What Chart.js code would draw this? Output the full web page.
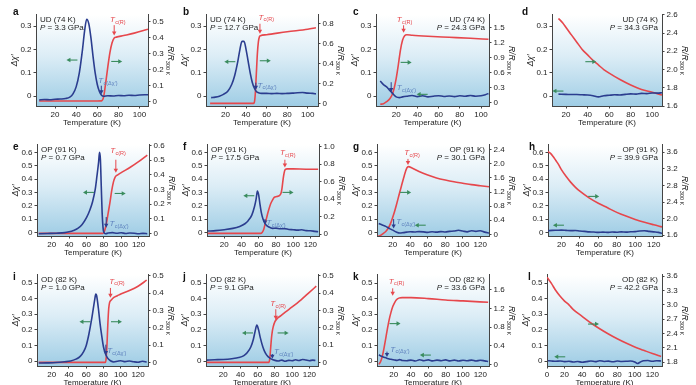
<!DOCTYPE html>
<html><head><meta charset="utf-8">
<script src="https://cdn.jsdelivr.net/npm/chart.js@4.4.1/dist/chart.umd.min.js"></script>
<style>
body{margin:0;background:#fff;width:696px;height:385px;position:relative;overflow:hidden;font-family:"Liberation Sans",Arial,sans-serif}
canvas{position:absolute}
.let{position:absolute;font-weight:bold;font-size:10px;line-height:10px;color:#111;font-family:"Liberation Sans",Arial,sans-serif}
</style></head><body>
<script>
// ---------------- DATA ----------------
const xTicksUD = [20,40,60,80,100];
const xTicksOP = [20,40,60,80,100,120];
const xTicksOD0 = [0,20,40,60,80,100,120];
const chiTicksUD = [0,0.1,0.2,0.3];
const chiTicksOP = [0,0.1,0.2,0.3,0.4,0.5,0.6];
const chiTicksOD = [0,0.1,0.2,0.3,0.4,0.5];

// a  UD 3.3 GPa
const aBT = [5,10,15,20,25,30,34,37,40,43,46,48,50,52,54,56,58,60,62,64,66,70,75,80,85,90,95,100,105,108];
const aBChi = [-0.016,-0.014,-0.015,-0.013,-0.012,-0.01,-0.004,0.01,0.04,0.10,0.20,0.28,0.33,0.31,0.25,0.17,0.10,0.05,0.02,0.004,0.0,0.002,0.001,0.003,0.002,0.004,0.003,0.005,0.006,0.006];
const aRT = [5,30,60,64,66,68,70,72,74,76,78,85,95,108];
const aR = [0.004,0.004,0.004,0.005,0.03,0.12,0.22,0.31,0.37,0.40,0.405,0.415,0.43,0.455];
const aRTicks = [0,0.1,0.2,0.3,0.4,0.5];
// b  UD 12.7 GPa
const bBT = [6,10,14,18,22,26,29,32,34,36,38,40,42,44,46,48,50,52,55,60,65,70,75,80,85,90,95,100,105,108];
const bBChi = [-0.006,-0.004,0.0,0.008,0.02,0.05,0.09,0.15,0.2,0.235,0.235,0.2,0.15,0.1,0.06,0.035,0.02,0.015,0.012,0.012,0.011,0.012,0.011,0.012,0.013,0.015,0.016,0.013,0.012,0.01];
const bRT = [5,30,47,48,49,50,51,52,53,54,60,80,100,108];
const bR = [0,0,0,0.01,0.1,0.3,0.5,0.62,0.67,0.68,0.69,0.72,0.745,0.76];
const bRTicks = [0,0.2,0.4,0.6,0.8];
// c  UD 24.3 GPa
const cBT = [5,8,11,14,17,20,23,26,30,35,40,45,50,55,60,65,70,75,80,85,90,95,100,104,107];
const cBChi = [0.065,0.05,0.04,0.025,0.01,-0.003,-0.006,-0.003,0.0,0.003,-0.002,0.002,-0.003,0.0,0.002,-0.001,0.001,-0.002,0.002,0.0,0.003,0.0,0.002,0.006,0.012];
const cRT = [5,8,11,14,16,18,20,22,24,26,28,30,35,50,70,90,107];
const cR = [-0.03,-0.02,0.02,0.08,0.15,0.28,0.48,0.75,1.05,1.25,1.34,1.36,1.35,1.33,1.31,1.29,1.27];
const cRTicks = [0,0.3,0.6,0.9,1.2,1.5];
// d  UD 34.3 GPa
const dBT = [13,20,25,30,35,40,45,50,55,60,65,70,75,80,85,90,95,100,105,109];
const dBChi = [0.009,0.008,0.007,0.007,0.006,0.005,0.002,-0.003,0.002,0.004,0.006,0.005,0.008,0.01,0.009,0.012,0.011,0.014,0.013,0.015];
const dRT = [13,17,20,25,30,35,40,45,50,55,60,70,80,90,100,109];
const dR = [2.56,2.51,2.46,2.38,2.30,2.22,2.16,2.10,2.05,2.0,1.96,1.89,1.83,1.78,1.75,1.72];
const dRTicks = [1.6,1.8,2.0,2.2,2.4,2.6];
// e  OP 0.7 GPa
const eBT = [5,15,25,35,40,45,50,55,60,64,67,70,72,74,75,76,77,78,79,80,82,85,90,95,100,105,110,115,120,125,130];
const eBChi = [-0.01,-0.008,-0.006,-0.002,0.005,0.015,0.03,0.06,0.11,0.17,0.23,0.32,0.42,0.53,0.6,0.55,0.35,0.15,0.04,0.0,-0.01,-0.005,-0.002,-0.006,-0.003,-0.008,-0.004,-0.006,-0.01,-0.007,-0.01];
const eRT = [5,40,79,81,83,85,87,89,91,93,96,100,110,120,130];
const eR = [0,0,0,0.02,0.07,0.14,0.21,0.29,0.35,0.385,0.40,0.415,0.45,0.49,0.535];
const eRTicks = [0,0.1,0.2,0.3,0.4,0.5,0.6];
// f  OP 17.5 GPa
const fBT = [1,10,20,30,38,44,48,52,55,57,58.5,60,61.5,63,65,68,72,76,80,85,90,95,100,105,110,115,120,125,129];
const fBChi = [0.01,0.013,0.02,0.03,0.045,0.065,0.09,0.13,0.19,0.25,0.31,0.28,0.21,0.15,0.1,0.06,0.04,0.03,0.032,0.027,0.028,0.022,0.02,0.017,0.02,0.013,0.012,0.008,0.005];
const fRT = [1,40,62,64,66,68,70,72,74,76,78,81,84,86,87,88,89,90,91,93,100,115,129];
const fR = [0.01,0.01,0.01,0.02,0.06,0.14,0.22,0.29,0.35,0.39,0.42,0.43,0.44,0.47,0.52,0.6,0.67,0.72,0.74,0.745,0.745,0.742,0.742];
const fRTicks = [0,0.2,0.4,0.6,0.8,1.0];
// g  OP 30.1 GPa
const gBT = [4,8,12,16,20,24,28,32,36,40,45,50,55,60,65,70,75,80,85,90,95,100,105,110,115,120,125,130];
const gBChi = [0.066,0.055,0.045,0.03,0.017,0.003,-0.005,-0.002,0.002,0.005,0.003,0.006,0.004,0.0,0.005,0.002,0.006,0.003,0.008,0.01,0.016,0.01,0.004,0.012,0.008,0.012,0.002,-0.005];
const gRT = [3,6,9,12,15,18,21,24,27,30,33,36,38,42,50,60,70,80,90,100,110,120,130];
const gR = [-0.06,-0.03,0.02,0.08,0.18,0.34,0.56,0.82,1.1,1.38,1.65,1.88,1.92,1.88,1.78,1.68,1.6,1.54,1.49,1.45,1.41,1.38,1.35];
const gRTicks = [0,0.4,0.8,1.2,1.6,2.0,2.4];
// h  OP 39.9 GPa
const hBT = [5,10,15,20,25,30,35,40,45,50,55,60,65,70,75,80,85,90,95,100,105,110,115,120,125,129];
const hBChi = [0.012,0.015,0.016,0.017,0.015,0.013,0.014,0.01,0.008,0.004,0.003,0.0,0.002,0.0,0.003,0.001,0.004,0.002,0.005,0.006,0.01,0.012,0.008,0.004,0.0,-0.006];
const hRT = [5,8,11,14,17,20,25,30,35,40,50,60,70,80,90,100,110,120,129];
const hR = [3.62,3.58,3.5,3.4,3.3,3.18,3.02,2.88,2.76,2.66,2.5,2.37,2.26,2.15,2.06,1.98,1.91,1.85,1.8];
const hRTicks = [1.6,2.0,2.4,2.8,3.2,3.6];
// i  OD 1.0 GPa
const iBT = [5,15,25,35,42,48,53,57,60,63,66,68,70,71,72,74,76,78,80,82,85,88,92,96,100,105,110,115,120,125,130];
const iBChi = [-0.013,-0.012,-0.01,-0.005,0.0,0.012,0.03,0.06,0.1,0.17,0.26,0.33,0.4,0.43,0.42,0.34,0.24,0.16,0.09,0.05,0.017,0.002,-0.006,-0.002,0.002,-0.004,0.0,-0.005,-0.008,-0.002,-0.006];
const iRT = [5,40,82,83,84,85,86,87,89,92,96,100,110,120,130];
const iR = [0,0,0,0.02,0.1,0.22,0.31,0.345,0.36,0.375,0.385,0.395,0.415,0.44,0.475];
const iRTicks = [0,0.1,0.2,0.3,0.4,0.5];
// j  OD 9.1 GPa
const jBT = [1,10,20,30,38,44,48,52,55,57,59,61,63,66,69,72,76,80,84,88,92,96,100,104,108,112,116,120,124,127];
const jBChi = [0.006,0.008,0.01,0.015,0.022,0.035,0.055,0.09,0.14,0.19,0.23,0.2,0.15,0.09,0.05,0.028,0.012,0.004,0.0,0.006,-0.002,0.004,0.002,0.008,0.003,0.01,0.006,0.002,0.006,0.003];
const jRT = [1,40,73,74,75,76,77,78,80,83,87,92,100,110,120,128];
const jR = [0,0,0,0.02,0.08,0.14,0.18,0.205,0.235,0.255,0.27,0.29,0.32,0.36,0.405,0.44];
const jRTicks = [0,0.1,0.2,0.3,0.4,0.5];
// k  OD 33.6 GPa
const kBT = [3,6,9,12,15,18,21,24,27,30,35,40,45,50,55,60,65,70,75,80,85,90,95,100,105,110,115,120,125,129];
const kBChi = [0.04,0.03,0.024,0.018,0.013,0.01,0.007,0.004,0.009,0.003,0.002,0.006,0.0,0.008,0.002,0.007,0.001,0.006,0.002,0.007,0.001,0.006,0.0,0.005,0.002,0.006,0.0,0.005,0.001,-0.003];
const kRT = [3,5,7,9,11,13,15,17,19,21,23,26,30,40,60,80,100,129];
const kR = [0.0,0.06,0.18,0.36,0.57,0.78,0.97,1.12,1.24,1.32,1.38,1.42,1.43,1.43,1.41,1.38,1.36,1.33];
const kRTicks = [0,0.4,0.8,1.2,1.6];
// l  OD 42.2 GPa
const lBT = [1,5,10,15,20,25,30,35,40,45,50,55,60,65,70,75,80,85,90,95,100,103,106,110,115,120,125,130];
const lBChi = [0.002,0.0,-0.002,0.0,-0.004,-0.002,-0.006,-0.003,-0.008,-0.004,0.0,-0.004,0.002,-0.003,-0.001,-0.005,0.0,-0.003,-0.002,0.0,-0.006,-0.016,-0.008,0.002,0.003,-0.002,0.002,0.0];
const lRT = [0,5,10,15,20,25,30,40,50,60,70,80,90,100,110,120,130];
const lR = [3.58,3.45,3.3,3.18,3.08,3.0,2.9,2.76,2.62,2.5,2.39,2.29,2.2,2.12,2.05,1.98,1.92];
const lRTicks = [1.8,2.1,2.4,2.7,3.0,3.3,3.6];

// ---------------- LAYOUT ----------------
const ROWS = [[13,106],[143,236],[273,366]];
const L = 36, R = 30, T = 5, B = 22;
const BLUE = '#2b3d8f', RED = '#e6474c', GREEN = '#3a8c5e', TLBLUE = '#5d80bd';

const panels = [
 {k:'a',row:0,pl:36,pr:148,x:[2,108],xt:xTicksUD,yl:[-0.042,0.349],ylt:chiTicksUD,yr:[-0.027,0.545],yrt:aRTicks,bt:aBT,by:aBChi,rt:aRT,ry:aR,
  s:'UD (74 K)',p:'3.3',side:'L',lx:13,
  tcR:{lx:72,ly:0.514,x:76,y1:0.48,y2:0.415},tcM:{lx:61,ly:0.065,x:63.8,y1:0.045,y2:0.008},gl:[36,0.155],gr:[78.4,0.149]},
 {k:'b',row:0,pl:206,pr:318,x:[1,110],xt:xTicksUD,yl:[-0.042,0.349],ylt:chiTicksUD,yr:[-0.026,0.89],yrt:bRTicks,bt:bBT,by:bBChi,rt:bRT,ry:bR,
  s:'UD (74 K)',p:'12.7',side:'L',lx:183,
  tcR:{lx:52,ly:0.865,x:53.5,y1:0.80,y2:0.70},tcM:{lx:51,ly:0.046,x:49.5,y1:0.058,y2:0.028},gl:[24.2,0.148],gr:[58.7,0.152]},
 {k:'c',row:0,pl:376,pr:489,x:[1,107.5],xt:xTicksUD,yl:[-0.042,0.349],ylt:chiTicksUD,yr:[-0.066,1.76],yrt:cRTicks,bt:cBT,by:cBChi,rt:cRT,ry:cR,
  s:'UD (74 K)',p:'24.3',side:'R',lx:353,
  tcR:{lx:20.6,ly:1.66,x:27,y1:1.55,y2:1.40},tcM:{lx:20.6,ly:0.037,x:15.3,y1:0.06,y2:0.018},gl:[44.5,0.008],gr:[29.4,0.145]},
 {k:'d',row:0,pl:552,pr:662,x:[7,109],xt:xTicksUD,yl:[-0.042,0.349],ylt:chiTicksUD,yr:[1.6,2.6],yrt:dRTicks,bt:dBT,by:dBChi,rt:dRT,ry:dR,
  s:'UD (74 K)',p:'34.3',side:'R',lx:522,
  gl:[12.5,0.022],gr:[43,0.148]},
 {k:'e',row:1,pl:37,pr:149,x:[3,132],xt:xTicksOP,yl:[-0.027,0.657],ylt:chiTicksOP,yr:[-0.018,0.605],yrt:eRTicks,bt:eBT,by:eBChi,rt:eRT,ry:eR,
  s:'OP (91 K)',p:'0.7',side:'L',lx:13,
  tcR:{lx:87.3,ly:0.566,x:93.8,y1:0.503,y2:0.414},tcM:{lx:86.5,ly:0.066,x:82.7,y1:0.115,y2:0.034},gl:[62.3,0.3],gr:[98.8,0.292]},
 {k:'f',row:1,pl:207,pr:319,x:[0,130],xt:xTicksOP,yl:[-0.027,0.657],ylt:chiTicksOP,yr:[-0.02,1.02],yrt:fRTicks,bt:fBT,by:fBChi,rt:fRT,ry:fR,
  s:'OP (91 K)',p:'17.5',side:'L',lx:183,
  tcR:{lx:84.6,ly:0.93,x:90.4,y1:0.85,y2:0.76},tcM:{lx:69,ly:0.074,x:67.3,y1:0.1,y2:0.06},gl:[48.5,0.275],gr:[94,0.3]},
 {k:'g',row:1,pl:377,pr:489,x:[2,130],xt:xTicksOP,yl:[-0.027,0.657],ylt:chiTicksOP,yr:[-0.047,2.54],yrt:gRTicks,bt:gBT,by:gBChi,rt:gRT,ry:gR,
  s:'OP (91 K)',p:'30.1',side:'R',lx:353,
  tcR:{lx:33.2,ly:2.31,x:37.4,y1:2.14,y2:1.97},tcM:{lx:24,ly:0.079,x:21,y1:0.1,y2:0.03},gl:[51.4,0.054],gr:[34.7,0.3]},
 {k:'h',row:1,pl:548,pr:662,x:[5.5,129],xt:xTicksOP,yl:[-0.027,0.657],ylt:chiTicksOP,yr:[1.58,3.78],yrt:hRTicks,bt:hBT,by:hBChi,rt:hRT,ry:hR,
  s:'OP (91 K)',p:'39.9',side:'R',lx:529,
  gl:[16.8,0.054],gr:[55,0.27]},
 {k:'i',row:2,pl:37,pr:148,x:[3,131.5],xt:xTicksOP,yl:[-0.032,0.553],ylt:chiTicksOD,yr:[-0.021,0.506],yrt:iRTicks,bt:iBT,by:iBChi,rt:iRT,ry:iR,
  s:'OD (82 K)',p:'1.0',side:'L',lx:13,
  tcR:{lx:86.5,ly:0.468,x:88,y1:0.43,y2:0.373},tcM:{lx:84.2,ly:0.063,x:82.7,y1:0.105,y2:0.038},gl:[58.5,0.252],gr:[95,0.252]},
 {k:'j',row:2,pl:206,pr:318,x:[0,130],xt:xTicksOP,yl:[-0.032,0.553],ylt:chiTicksOD,yr:[-0.021,0.506],yrt:jRTicks,bt:jBT,by:jBChi,rt:jRT,ry:jR,
  s:'OD (82 K)',p:'9.1',side:'L',lx:183,
  tcR:{lx:74.7,ly:0.34,x:81,y1:0.307,y2:0.246},tcM:{lx:79,ly:0.059,x:77,y1:0.045,y2:0.015},gl:[48.2,0.18],gr:[89.5,0.18]},
 {k:'k',row:2,pl:377,pr:489,x:[0.8,130],xt:xTicksOP,yl:[-0.032,0.553],ylt:chiTicksOD,yr:[-0.035,1.92],yrt:kRTicks,bt:kBT,by:kBChi,rt:kRT,ry:kR,
  s:'OD (82 K)',p:'33.6',side:'R',lx:353,
  tcR:{lx:14.3,ly:1.78,x:18.9,y1:1.63,y2:1.47},tcM:{lx:16.2,ly:0.074,x:12.3,y1:0.06,y2:0.025},gl:[56.6,0.038],gr:[21.6,0.24]},
 {k:'l',row:2,pl:547,pr:662,x:[0,131],xt:xTicksOD0,yl:[-0.032,0.553],ylt:chiTicksOD,yr:[1.72,3.63],yrt:lRTicks,bt:lBT,by:lBChi,rt:lRT,ry:lR,
  s:'OD (82 K)',p:'42.2',side:'R',lx:528,
  gl:[14.5,0.027],gr:[53,0.237]}
];
const LETTER_Y = [7,142,272];

function fmt(v){ return Math.abs(v)<1e-9 ? '0' : v.toFixed(1); }
function pts(xs,ys){ return xs.map((x,i)=>({x, y:ys[i]})); }

function arrowH(ctx,cx,cy,dir){
  const len=11; ctx.save(); ctx.strokeStyle=GREEN; ctx.fillStyle=GREEN; ctx.lineWidth=1.1;
  const x0=cx-dir*len/2, x1=cx+dir*len/2;
  ctx.beginPath(); ctx.moveTo(x0,cy); ctx.lineTo(x1-dir*3,cy); ctx.stroke();
  ctx.beginPath(); ctx.moveTo(x1,cy); ctx.lineTo(x1-dir*4,cy-2.3); ctx.lineTo(x1-dir*4,cy+2.3); ctx.closePath(); ctx.fill();
  ctx.restore();
}
function arrowV(ctx,x,y1,y2,color){
  ctx.save(); ctx.strokeStyle=color; ctx.fillStyle=color; ctx.lineWidth=1;
  const d = y2>y1?1:-1;
  ctx.beginPath(); ctx.moveTo(x,y1); ctx.lineTo(x,y2-d*3); ctx.stroke();
  ctx.beginPath(); ctx.moveTo(x,y2); ctx.lineTo(x-2.2,y2-d*4); ctx.lineTo(x+2.2,y2-d*4); ctx.closePath(); ctx.fill();
  ctx.restore();
}
function tcLabel(ctx,x,y,sub,color){
  ctx.save(); ctx.fillStyle=color; ctx.textBaseline='middle'; ctx.textAlign='left';
  ctx.font='italic 8px "Liberation Sans", Arial, sans-serif'; ctx.fillText('T',x,y);
  const w=ctx.measureText('T').width;
  ctx.font='5.5px "Liberation Sans", Arial, sans-serif'; ctx.fillText(sub,x+w+0.3,y+2.5);
  ctx.restore();
}

function makeDeco(p){
  return {
    id:'deco'+p.k,
    beforeDraw(chart){
      const {ctx, chartArea:a} = chart;
      const g = ctx.createLinearGradient(0,a.top,0,a.bottom);
      g.addColorStop(0,'#ffffff'); g.addColorStop(0.45,'#dcedf6'); g.addColorStop(1,'#9fcde5');
      ctx.save(); ctx.fillStyle=g; ctx.fillRect(a.left,a.top,a.right-a.left,a.bottom-a.top); ctx.restore();
    },
    afterDraw(chart){
      const {ctx, chartArea:a, scales} = chart;
      const X=scales.x, YL=scales.yl, YR=scales.yr;
      ctx.save();
      ctx.fillStyle='#222'; ctx.textBaseline='middle';
      // x title
      ctx.font='8px "Liberation Sans", Arial, sans-serif'; ctx.textAlign='center';
      ctx.fillText('Temperature (K)',(a.left+a.right)/2,a.bottom+16.5);
      // left title
      ctx.save(); ctx.translate(a.left-21,(a.top+a.bottom)/2); ctx.rotate(-Math.PI/2);
      ctx.font='italic 8.5px "Liberation Sans", Arial, sans-serif'; ctx.textAlign='center'; ctx.fillText('\u0394\u03c7\u2032',0,0); ctx.restore();
      // right title
      ctx.save(); ctx.translate(a.right+22,(a.top+a.bottom)/2); ctx.rotate(Math.PI/2);
      ctx.font='italic 8.5px "Liberation Sans", Arial, sans-serif'; ctx.textAlign='left';
      const w1=ctx.measureText('R/R').width; ctx.font='5.5px "Liberation Sans", Arial, sans-serif';
      const w2=ctx.measureText('300 K').width; const st=-(w1+w2)/2;
      ctx.font='italic 8.5px "Liberation Sans", Arial, sans-serif'; ctx.fillText('R/R',st,0);
      ctx.font='5.5px "Liberation Sans", Arial, sans-serif'; ctx.fillText('300 K',st+w1+0.3,2.6);
      ctx.restore();
      // sample text
      ctx.font='8px "Liberation Sans", Arial, sans-serif';
      const l2a='P', l2b=' = '+p.p+' GPa';
      ctx.font='italic 8px "Liberation Sans", Arial, sans-serif'; const wp=ctx.measureText(l2a).width;
      ctx.font='8px "Liberation Sans", Arial, sans-serif'; const wb=ctx.measureText(l2b).width;
      const w0=ctx.measureText(p.s).width;
      if(p.side==='L'){
        const x0=a.left+4;
        ctx.textAlign='left'; ctx.fillText(p.s,x0,a.top+5);
        ctx.font='italic 8px "Liberation Sans", Arial, sans-serif'; ctx.fillText(l2a,x0,a.top+13);
        ctx.font='8px "Liberation Sans", Arial, sans-serif'; ctx.fillText(l2b,x0+wp,a.top+13);
      } else {
        const xr=a.right-4;
        ctx.textAlign='left'; ctx.fillText(p.s,xr-w0,a.top+5);
        ctx.font='italic 8px "Liberation Sans", Arial, sans-serif'; ctx.fillText(l2a,xr-wp-wb,a.top+13);
        ctx.font='8px "Liberation Sans", Arial, sans-serif'; ctx.fillText(l2b,xr-wb,a.top+13);
      }
      ctx.restore();
      // Tc annotations
      if(p.tcR){ const t=p.tcR;
        tcLabel(ctx,X.getPixelForValue(t.lx),YR.getPixelForValue(t.ly),'c(R)',RED);
        arrowV(ctx,X.getPixelForValue(t.x),YR.getPixelForValue(t.y1),YR.getPixelForValue(t.y2),RED);
      }
      if(p.tcM){ const t=p.tcM;
        tcLabel(ctx,X.getPixelForValue(t.lx),YL.getPixelForValue(t.ly),'c(\u0394\u03c7\u2032)',TLBLUE);
        arrowV(ctx,X.getPixelForValue(t.x),YL.getPixelForValue(t.y1),YL.getPixelForValue(t.y2),BLUE);
      }
      arrowH(ctx,X.getPixelForValue(p.gl[0]),YL.getPixelForValue(p.gl[1]),-1);
      arrowH(ctx,X.getPixelForValue(p.gr[0]),YL.getPixelForValue(p.gr[1]),1);
    }
  };
}

const tickFont = {family:'"Liberation Sans", Arial, sans-serif', size:8};
function axisCommon(){
  return {
    border:{display:true,color:'#444',width:1},
    grid:{display:true,drawOnChartArea:false,drawTicks:true,tickLength:2.5,color:'#444'},
  };
}

panels.forEach(p=>{
  const [top,bot] = ROWS[p.row];
  const cv = document.createElement('canvas');
  const W = (p.pr-p.pl)+L+R, H = (bot-top)+T+B;
  cv.width=W; cv.height=H; cv.style.width=W+'px'; cv.style.height=H+'px';
  cv.style.left=(p.pl-L)+'px'; cv.style.top=(top-T)+'px';
  document.body.appendChild(cv);
  const lt = document.createElement('div'); lt.className='let'; lt.textContent=p.k;
  lt.style.left=p.lx+'px'; lt.style.top=LETTER_Y[p.row]+'px'; document.body.appendChild(lt);

  new Chart(cv,{
    type:'line',
    data:{datasets:[
      {data:pts(p.bt,p.by),yAxisID:'yl',borderColor:BLUE,borderWidth:1.6,pointRadius:0,cubicInterpolationMode:'monotone',fill:false},
      {data:pts(p.rt,p.ry),yAxisID:'yr',borderColor:RED,borderWidth:1.6,pointRadius:0,cubicInterpolationMode:'monotone',fill:false}
    ]},
    options:{
      responsive:false,animation:false,devicePixelRatio:1,
      layout:{padding:{top:T,left:0,right:0,bottom:0}},
      plugins:{legend:{display:false},tooltip:{enabled:false}},
      scales:{
        x:{type:'linear',min:p.x[0],max:p.x[1],...axisCommon(),
          afterBuildTicks:s=>{s.ticks=p.xt.map(v=>({value:v}));},
          afterFit:s=>{s.height=B;},
          ticks:{font:tickFont,color:'#222',padding:1,maxRotation:0,autoSkip:false,callback:v=>String(v)}},
        yl:{type:'linear',position:'left',min:p.yl[0],max:p.yl[1],...axisCommon(),
          afterBuildTicks:s=>{s.ticks=p.ylt.map(v=>({value:v}));},
          afterFit:s=>{s.width=L;},
          ticks:{font:tickFont,color:'#222',padding:2,autoSkip:false,callback:v=>fmt(v)}},
        yr:{type:'linear',position:'right',min:p.yr[0],max:p.yr[1],...axisCommon(),
          afterBuildTicks:s=>{s.ticks=p.yrt.map(v=>({value:v}));},
          afterFit:s=>{s.width=R;},
          ticks:{font:tickFont,color:'#222',padding:2,autoSkip:false,callback:v=>fmt(v)}}
      }
    },
    plugins:[makeDeco(p)]
  });
});
</script>
</body></html>
